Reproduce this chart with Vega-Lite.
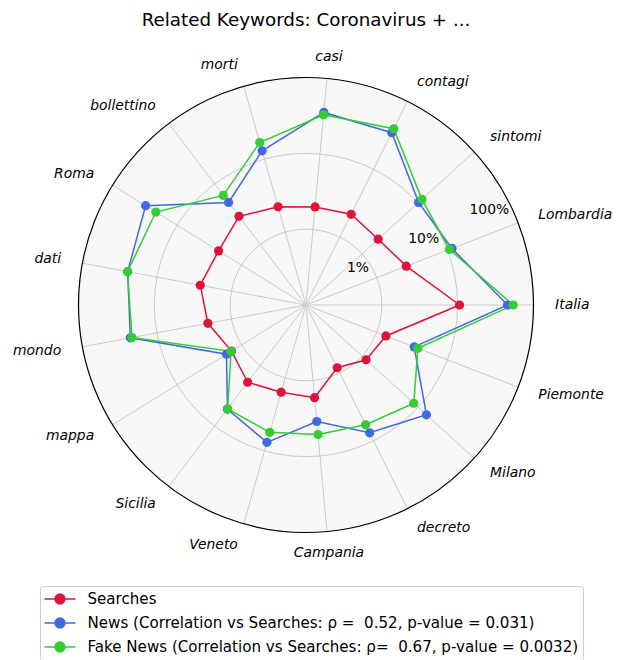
{
  "$schema": "https://vega.github.io/schema/vega-lite/v6.json",
  "width": 600,
  "height": 520,
  "padding": {"left": 6, "top": 11, "right": 13, "bottom": 0},
  "title": {"text": "Related Keywords: Coronavirus + ...", "fontSize": 18.3, "font": "DejaVu Sans", "fontWeight": "normal", "anchor": "middle", "color": "black", "offset": 14.5},
  "config": {"view": {"stroke": null}, "font": "DejaVu Sans"},
  "datasets": {
    "scores": [
      {"keyword": "Italia", "Searches": 10.6, "News": 45.5, "Fake News": 54},
      {"keyword": "Lombardia", "Searches": 2.62, "News": 11.6, "Fake News": 10.7},
      {"keyword": "sintomi", "Searches": 1.94, "News": 10.2, "Fake News": 11.7},
      {"keyword": "contagi", "Searches": 2.17, "News": 34.5, "Fake News": 39.5},
      {"keyword": "casi", "Searches": 1.99, "News": 35.5, "Fake News": 33},
      {"keyword": "morti", "Searches": 2.22, "News": 13, "Fake News": 16.9},
      {"keyword": "bollettino", "Searches": 2.92, "News": 4.95, "Fake News": 6.46},
      {"keyword": "Roma", "Searches": 2.27, "News": 30.7, "Fake News": 21.3},
      {"keyword": "dati", "Searches": 2.62, "News": 24.7, "Fake News": 24.8},
      {"keyword": "mondo", "Searches": 2.07, "News": 22.7, "Fake News": 21.6},
      {"keyword": "mappa", "Searches": 1.43, "News": 1.71, "Fake News": 1.45},
      {"keyword": "Sicilia", "Searches": 1.89, "News": 5.25, "Fake News": 5.2},
      {"keyword": "Veneto", "Searches": 1.57, "News": 7.64, "Fake News": 5.57},
      {"keyword": "Campania", "Searches": 1.69, "News": 3.49, "Fake News": 5.2},
      {"keyword": "decreto", "Searches": 0.84, "News": 7.64, "Fake News": 5.82},
      {"keyword": "Milano", "Searches": 1.18, "News": 14.1, "Fake News": 8.38},
      {"keyword": "Piemonte", "Searches": 1.35, "News": 3.39, "Fake News": 3.82}
    ],
    "rings": [
      {"pct": 1, "label": "1%"},
      {"pct": 10, "label": "10%"},
      {"pct": 100, "label": "100%"}
    ]
  },
  "layer": [
    {
      "data": {"name": "rings"},
      "transform": [{"filter": "datum.pct == 100"}],
      "mark": {"type": "arc", "theta": 0, "theta2": 6.2832, "fill": "#f8f8f8"},
      "encoding": {"radius": {"field": "pct", "type": "quantitative", "stack": null, "scale": {"type": "log", "domain": [0.1, 100], "range": [0, 227.5]}}}
    },
    {
      "data": {"name": "rings"},
      "transform": [{"filter": "datum.pct < 100"}],
      "mark": {"type": "arc", "theta": 0, "theta2": 6.2832, "fillOpacity": 0, "stroke": "#cbcbcb", "strokeWidth": 1},
      "encoding": {"radius": {"field": "pct", "type": "quantitative", "stack": null, "scale": {"type": "log", "domain": [0.1, 100], "range": [0, 227.5]}}}
    },
    {
      "data": {"name": "scores"},
      "transform": [
        {"window": [{"op": "row_number", "as": "idx"}]},
        {"joinaggregate": [{"op": "count", "as": "n"}]},
        {"calculate": "(datum.idx - 1) * 2 * PI / datum.n", "as": "ang"},
        {"calculate": "cos(datum.ang)", "as": "ex"},
        {"calculate": "sin(datum.ang)", "as": "ey"},
        {"calculate": "0", "as": "zero"}
      ],
      "mark": {"type": "rule", "color": "#cbcbcb", "strokeWidth": 1},
      "encoding": {
        "x": {"field": "zero", "type": "quantitative", "scale": {"domain": [-1.3187, 1.3187], "nice": false, "zero": false}, "axis": null},
        "y": {"field": "zero", "type": "quantitative", "scale": {"domain": [-1.1429, 1.1429], "nice": false, "zero": false}, "axis": null},
        "x2": {"field": "ex"},
        "y2": {"field": "ey"}
      }
    },
    {
      "data": {"name": "rings"},
      "transform": [{"filter": "datum.pct == 100"}],
      "mark": {"type": "arc", "theta": 0, "theta2": 6.2832, "fillOpacity": 0, "stroke": "black", "strokeWidth": 1.2},
      "encoding": {"radius": {"field": "pct", "type": "quantitative", "stack": null, "scale": {"type": "log", "domain": [0.1, 100], "range": [0, 227.5]}}}
    },
    {
      "data": {"name": "rings"},
      "transform": [
        {"calculate": "log(datum.pct / 0.1) / LN10 / 3", "as": "r"},
        {"calculate": "datum.r * cos(PI / 8)", "as": "lx"},
        {"calculate": "datum.r * sin(PI / 8)", "as": "ly"}
      ],
      "mark": {"type": "text", "align": "right", "baseline": "middle", "dx": -7, "dy": -8, "fontSize": 13.9, "color": "black"},
      "encoding": {
        "x": {"field": "lx", "type": "quantitative"},
        "y": {"field": "ly", "type": "quantitative"},
        "text": {"field": "label"}
      }
    },
    {
      "data": {"name": "scores"},
      "transform": [
        {"window": [{"op": "row_number", "as": "idx"}]},
        {"joinaggregate": [{"op": "count", "as": "n"}]},
        {"fold": ["Searches", "News", "Fake News"], "as": ["series", "value"]},
        {"calculate": "(datum.idx - 1) * 2 * PI / datum.n", "as": "ang"},
        {"calculate": "log(datum.value / 0.1) / LN10 / 3", "as": "r"},
        {"calculate": "datum.r * cos(datum.ang)", "as": "px"},
        {"calculate": "datum.r * sin(datum.ang)", "as": "py"}
      ],
      "mark": {"type": "line", "interpolate": "linear-closed", "strokeWidth": 1.5},
      "encoding": {
        "x": {"field": "px", "type": "quantitative"},
        "y": {"field": "py", "type": "quantitative"},
        "order": {"field": "idx", "type": "quantitative"},
        "color": {
          "field": "series", "type": "nominal",
          "scale": {"domain": ["Searches", "News", "Fake News"], "range": ["#dc143c", "#4169e1", "#32cd32"]},
          "legend": {
            "title": null,
            "orient": "none",
            "legendX": 34,
            "legendY": 541,
            "direction": "vertical",
            "symbolType": "M-1.1,0H2.9M0.26,0A0.64,0.64,0,1,0,1.54,0A0.64,0.64,0,1,0,0.26,0Z",
            "symbolSize": 240,
            "symbolStrokeWidth": 1.5,
            "labelFontSize": 15.1,
            "labelFont": "DejaVu Sans",
            "labelColor": "black",
            "labelLimit": 800,
            "labelOffset": 26,
            "rowPadding": 7,
            "padding": 4.5,
            "strokeColor": "#cccccc",
            "fillColor": "white",
            "cornerRadius": 3,
            "labelExpr": "datum.label == 'News' ? 'News (Correlation vs Searches: ρ = \u00a00.52, p-value = 0.031)' : datum.label == 'Fake News' ? 'Fake News (Correlation vs Searches: ρ= \u00a00.67, p-value = 0.0032)' : datum.label",
            "encode": {"symbols": {"update": {"fill": {"scale": "color", "field": "value"}, "stroke": {"scale": "color", "field": "value"}, "opacity": {"value": 1}}}}
          }
        }
      }
    },
    {
      "data": {"name": "scores"},
      "transform": [
        {"window": [{"op": "row_number", "as": "idx"}]},
        {"joinaggregate": [{"op": "count", "as": "n"}]},
        {"fold": ["Searches", "News", "Fake News"], "as": ["series", "value"]},
        {"calculate": "(datum.idx - 1) * 2 * PI / datum.n", "as": "ang"},
        {"calculate": "log(datum.value / 0.1) / LN10 / 3", "as": "r"},
        {"calculate": "datum.r * cos(datum.ang)", "as": "px"},
        {"calculate": "datum.r * sin(datum.ang)", "as": "py"}
      ],
      "mark": {"type": "point", "filled": true, "size": 85, "opacity": 1},
      "encoding": {
        "x": {"field": "px", "type": "quantitative"},
        "y": {"field": "py", "type": "quantitative"},
        "color": {"field": "series", "type": "nominal"}
      }
    },
    {
      "data": {"name": "scores"},
      "transform": [
        {"window": [{"op": "row_number", "as": "idx"}]},
        {"joinaggregate": [{"op": "count", "as": "n"}]},
        {"calculate": "(datum.idx - 1) * 2 * PI / datum.n", "as": "ang"},
        {"calculate": "1.095 * cos(datum.ang)", "as": "tx"},
        {"calculate": "1.095 * sin(datum.ang)", "as": "ty"},
        {"filter": "cos(datum.ang) > 0.2"}
      ],
      "mark": {"type": "text", "align": "left", "baseline": "middle", "fontSize": 13.9, "fontStyle": "italic", "color": "black"},
      "encoding": {
        "x": {"field": "tx", "type": "quantitative"},
        "y": {"field": "ty", "type": "quantitative"},
        "text": {"field": "keyword"}
      }
    },
    {
      "data": {"name": "scores"},
      "transform": [
        {"window": [{"op": "row_number", "as": "idx"}]},
        {"joinaggregate": [{"op": "count", "as": "n"}]},
        {"calculate": "(datum.idx - 1) * 2 * PI / datum.n", "as": "ang"},
        {"calculate": "1.095 * cos(datum.ang)", "as": "tx"},
        {"calculate": "1.095 * sin(datum.ang)", "as": "ty"},
        {"filter": "cos(datum.ang) < -0.2"}
      ],
      "mark": {"type": "text", "align": "right", "baseline": "middle", "fontSize": 13.9, "fontStyle": "italic", "color": "black"},
      "encoding": {
        "x": {"field": "tx", "type": "quantitative"},
        "y": {"field": "ty", "type": "quantitative"},
        "text": {"field": "keyword"}
      }
    },
    {
      "data": {"name": "scores"},
      "transform": [
        {"window": [{"op": "row_number", "as": "idx"}]},
        {"joinaggregate": [{"op": "count", "as": "n"}]},
        {"calculate": "(datum.idx - 1) * 2 * PI / datum.n", "as": "ang"},
        {"calculate": "1.095 * cos(datum.ang)", "as": "tx"},
        {"calculate": "1.095 * sin(datum.ang)", "as": "ty"},
        {"filter": "abs(cos(datum.ang)) <= 0.2"}
      ],
      "mark": {"type": "text", "align": "center", "baseline": "middle", "fontSize": 13.9, "fontStyle": "italic", "color": "black"},
      "encoding": {
        "x": {"field": "tx", "type": "quantitative"},
        "y": {"field": "ty", "type": "quantitative"},
        "text": {"field": "keyword"}
      }
    }
  ]
}
